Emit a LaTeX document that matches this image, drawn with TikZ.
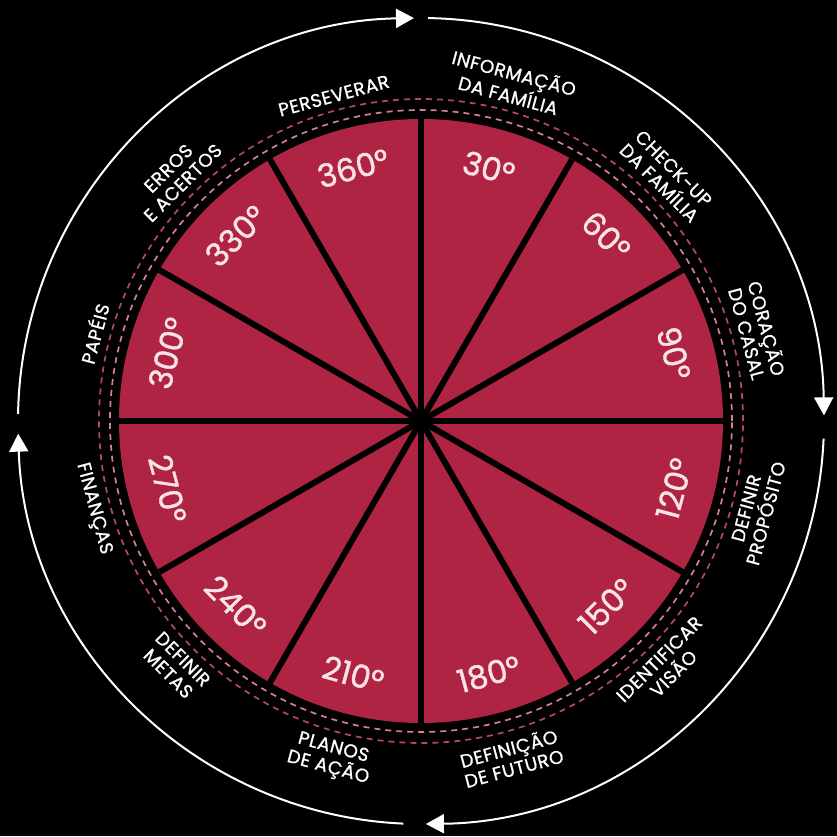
\documentclass[tikz,border=0pt]{standalone}
\usepackage{fontspec}
\setmainfont{Poppins}
\newfontfamily\wheelfont[FakeBold=1.2]{Poppins}
\newfontfamily\stagefont[FakeBold=1, LetterSpace=3]{Poppins}
\usetikzlibrary{arrows.meta}

\definecolor{wheelred}{RGB}{175,36,66}
\definecolor{stitchpink}{RGB}{214,128,146}
\definecolor{stitchred}{RGB}{184,72,98}
\definecolor{textpink}{RGB}{248,228,232}

\tikzset{
  degree/.style={text=textpink, font=\wheelfont\fontsize{32}{32}\selectfont, inner sep=0pt},
  stage/.style={text=white, font=\stagefont\fontsize{18.5}{20.5}\selectfont, align=center, inner sep=0pt},
  stitch/.style={line width=1.7pt, dash pattern=on 6pt off 5pt},
  cycle/.style={white, line width=2pt, -{Triangle[length=18pt,width=19pt]}},
}

\begin{document}
\begin{tikzpicture}[x=1pt, y=1pt]
    % Background
    \fill[black] (-421,-415) rectangle (416,421);
    \useasboundingbox (-421,-415) rectangle (416,421);
    \coordinate (hub) at (0,0);

    % Red disc and spokes
    \fill[wheelred] (hub) circle (302);
    \foreach \a in {0,30,...,330}
        \draw[black, line width=6pt] (hub) -- (\a:302);
    \fill[black] (hub) circle (9);

    % Stitched rings
    \draw[stitch, stitchpink] (hub) circle (311);
    \draw[stitch, stitchred] (hub) circle (322);

    % Outer cycle
    \draw[cycle] (179:403) arc (179:91:403);
    \draw[cycle] (89:403) arc (89:0.8:403);
    \draw[cycle] (-2.5:403) arc (-2.5:-89.3:403);
    \draw[cycle] (-92.5:403) arc (-92.5:-178.2:403);

    % Degrees and stages
    \foreach \a/\n/\s/\txt in {
        105/360/-90/PERSEVERAR,
        75/30/-90/{INFORMAÇÃO\\DA FAMÍLIA},
        45/60/-90/{CHECK-UP\\DA FAMÍLIA},
        15/90/-90/{CORAÇÃO\\DO CASAL},
        -15/120/90/{DEFINIR\\PROPÓSITO},
        -45/150/90/{IDENTIFICAR\\VISÃO},
        -75/180/90/{DEFINIÇÃO\\DE FUTURO},
        255/210/90/{PLANOS\\DE AÇÃO},
        225/240/90/{DEFINIR\\METAS},
        195/270/90/FINANÇAS,
        165/300/-90/PAPÉIS,
        135/330/-90/{ERROS\\E ACERTOS}}
    {
        \ifnum\s<0 \def\anc{south}\else\def\anc{north}\fi
        \node[degree, rotate=\a+\s] (deg\n) at (\a:262) {\n°};
        \node[stage, rotate=\a+\s, anchor=\anc] (stage\n) at (\a:330) {\txt};
    }
\end{tikzpicture}
\end{document}
